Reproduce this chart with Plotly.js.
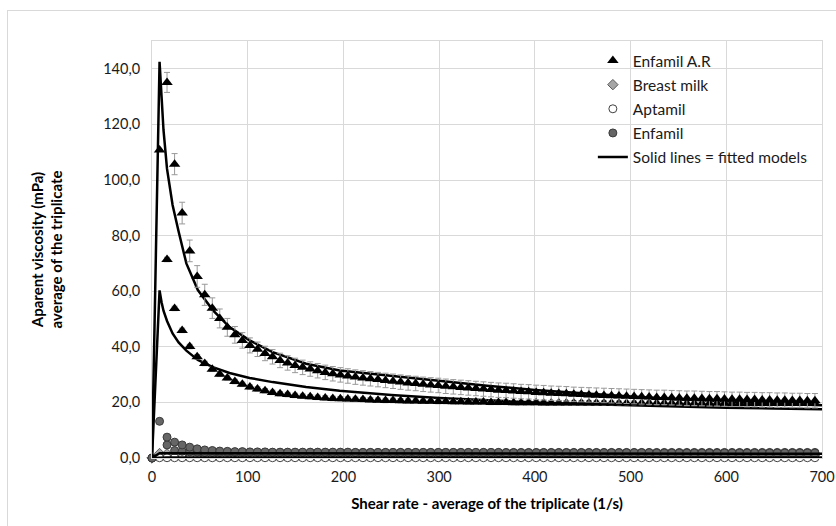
<!DOCTYPE html>
<html>
<head>
<meta charset="utf-8">
<script src="https://cdn.plot.ly/plotly-3.0.1.min.js"></script>
<style>
html,body{margin:0;padding:0;background:#fff;}
#wrap{position:relative;width:836px;height:526px;}
#chart{width:836px;height:526px;}
#frame{position:absolute;left:7px;top:10px;width:840px;height:530px;border-left:1px solid #d9d9d9;border-top:1px solid #d9d9d9;pointer-events:none;}
</style>
</head>
<body>
<div id="wrap"><div id="chart"></div><div id="frame"></div></div>
<script>
// Shear rate (1/s) of measured points
const shearRate = [0,7.9,15.7,23.6,31.5,39.4,47.2,55.1,63.0,70.8,78.7,86.6,94.4,102.3,110.2,118.1,125.9,133.8,141.7,149.5,157.4,165.3,173.1,181.0,188.9,196.8,204.6,212.5,220.4,228.2,236.1,244.0,251.8,259.7,267.6,275.5,283.3,291.2,299.1,306.9,314.8,322.7,330.5,338.4,346.3,354.2,362.0,369.9,377.8,385.6,393.5,401.4,409.2,417.1,425.0,432.9,440.7,448.6,456.5,464.3,472.2,480.1,487.9,495.8,503.7,511.6,519.4,527.3,535.2,543.0,550.9,558.8,566.6,574.5,582.4,590.3,598.1,606.0,613.9,621.7,629.6,637.5,645.3,653.2,661.1,669.0,676.8,684.7,692.6];

// Enfamil A.R - upper set (with error bars)
const enfamilAR1 = [0,null,135.1,105.7,88.1,74.5,65.3,58.7,53.9,50.2,47.0,44.3,42.3,40.5,39.1,37.6,36.4,35.1,34.2,33.3,32.6,32.0,31.4,30.8,30.3,29.9,29.5,29.1,28.8,28.5,28.2,27.9,27.6,27.3,27.0,26.8,26.5,26.3,26.1,25.8,25.6,25.4,25.2,25.0,24.8,24.6,24.4,24.3,24.1,23.9,23.8,23.6,23.5,23.3,23.2,23.1,22.9,22.8,22.7,22.6,22.5,22.4,22.3,22.2,22.1,22.0,21.9,21.8,21.8,21.7,21.6,21.5,21.5,21.4,21.3,21.3,21.2,21.1,21.1,21.0,21.0,20.9,20.9,20.8,20.8,20.7,20.7,20.6,20.6];
const enfamilAR1Err = [0,0,3.6,3.8,3.9,3.9,3.9,3.8,3.7,3.4,3.2,3.0,2.8,2.7,2.6,2.6,2.6,2.6,2.6,2.6,2.6,2.6,2.6,2.6,2.6,2.6,2.6,2.6,2.6,2.6,2.6,2.6,2.6,2.6,2.6,2.6,2.6,2.6,2.6,2.6,2.6,2.6,2.6,2.6,2.6,2.6,2.6,2.6,2.6,2.6,2.6,2.6,2.6,2.6,2.6,2.6,2.6,2.6,2.6,2.6,2.6,2.6,2.6,2.6,2.6,2.6,2.6,2.6,2.6,2.6,2.6,2.6,2.6,2.6,2.6,2.6,2.6,2.6,2.6,2.6,2.6,2.6,2.6,2.6,2.6,2.6,2.6,2.6,2.6];

// Enfamil A.R - lower set
const enfamilAR2 = [0,110.8,71.4,53.8,45.9,40.1,36.4,34.0,31.9,30.1,28.8,27.5,26.5,25.5,24.8,24.2,23.6,23.1,22.8,22.5,22.2,22.0,21.8,21.6,21.4,21.3,21.2,21.1,21.0,20.9,20.8,20.7,20.7,20.6,20.5,20.5,20.4,20.4,20.3,20.3,20.2,20.2,20.1,20.1,20.1,20.0,20.0,20.0,19.9,19.9,19.9,19.9,19.8,19.8,19.8,19.8,19.8,19.8,19.8,19.8,19.8,19.7,19.7,19.7,19.7,19.7,19.7,19.7,19.7,19.7,19.7,19.6,19.6,19.6,19.6,19.6,19.6,19.6,19.6,19.6,19.6,19.6,19.6,19.6,19.6,19.6,19.6,19.6,19.6];
const enfamilAR2Err = [0,0,0.8,0.8,0.8,0.8,0.8,0.8,0.8,0.8,0.8,0.8,0.8,0.8,0.8,0.8,0.8,0.8,0.8,0.8,0.8,0.8,0.8,0.8,0.8,0.8,0.8,0.8,0.8,0.8,0.8,0.8,0.8,0.8,0.8,0.8,0.8,0.8,0.8,0.8,0.8,0.8,0.8,0.8,0.8,0.8,0.8,0.8,0.8,0.8,0.8,0.8,0.8,0.8,0.8,0.8,0.8,0.8,0.8,0.8,0.8,0.8,0.8,0.8,0.8,0.8,0.8,0.8,0.8,0.8,0.8,0.8,0.8,0.8,0.8,0.8,0.8,0.8,0.8,0.8,0.8,0.8,0.8,0.8,0.8,0.8,0.8,0.8,0.8];

// Breast milk
const breastMilk = [0,1.6,1.5,1.3,1.2,1.2,1.2,1.2,1.2,1.2,1.2,1.2,1.2,1.2,1.2,1.2,1.2,1.2,1.2,1.2,1.2,1.2,1.2,1.2,1.2,1.2,1.2,1.2,1.2,1.2,1.2,1.2,1.2,1.2,1.2,1.2,1.2,1.2,1.2,1.2,1.2,1.2,1.2,1.2,1.2,1.2,1.2,1.2,1.2,1.2,1.2,1.2,1.2,1.2,1.2,1.2,1.2,1.2,1.2,1.2,1.2,1.2,1.2,1.2,1.2,1.2,1.2,1.2,1.2,1.2,1.2,1.2,1.2,1.2,1.2,1.2,1.2,1.2,1.2,1.2,1.2,1.2,1.2,1.2,1.2,1.2,1.2,1.2,1.2];

// Aptamil
const aptamil = [null,0.1,0.1,0.1,0.1,0.1,0.1,0.1,0.1,0.1,0.1,0.1,0.1,0.1,0.1,0.1,0.1,0.1,0.1,0.1,0.1,0.1,0.1,0.1,0.1,0.1,0.1,0.1,0.1,0.1,0.1,0.1,0.1,0.1,0.1,0.1,0.1,0.1,0.1,0.1,0.1,0.1,0.1,0.1,0.1,0.1,0.1,0.1,0.1,0.1,0.1,0.1,0.1,0.1,0.1,0.1,0.1,0.1,0.1,0.1,0.1,0.1,0.1,0.1,0.1,0.1,0.1,0.1,0.1,0.1,0.1,0.1,0.1,0.1,0.1,0.1,0.1,0.1,0.1,0.1,0.1,0.1,0.1,0.1,0.1,0.1,0.1,0.1,0.1];

// Enfamil - two sets
const enfamil1 = [0,13.2,7.5,5.7,4.7,3.9,3.3,2.9,2.7,2.5,2.4,2.3,2.3,2.2,2.2,2.2,2.1,2.1,2.1,2.1,2.1,2.1,2.1,2.1,2.1,2.1,2.1,2.0,2.0,2.0,2.0,2.0,2.0,2.0,2.0,2.0,2.0,2.0,2.0,2.0,2.0,2.0,2.0,2.0,2.0,2.0,2.0,1.9,1.9,1.9,1.9,1.9,1.9,1.9,1.9,1.9,1.9,1.9,1.9,1.9,1.9,1.9,1.9,1.9,1.9,1.9,1.9,1.8,1.8,1.8,1.8,1.8,1.8,1.8,1.8,1.8,1.8,1.8,1.8,1.8,1.8,1.8,1.8,1.8,1.8,1.8,1.8,1.8,1.8];
const enfamil2 = [0,null,4.7,2.7,2.4,2.2,2.1,2.0,2.0,2.0,2.0,2.0,2.0,2.0,2.0,2.0,2.0,2.0,2.0,2.0,2.0,2.0,2.0,2.0,2.0,2.0,2.0,2.0,2.0,2.0,2.0,2.0,2.0,2.0,2.0,2.0,2.0,2.0,2.0,2.0,2.0,2.0,2.0,2.0,2.0,2.0,2.0,2.0,2.0,2.0,2.0,2.0,2.0,2.0,2.0,2.0,2.0,2.0,2.0,2.0,2.0,2.0,2.0,2.0,2.0,2.0,2.0,2.0,2.0,2.0,2.0,2.0,2.0,2.0,2.0,2.0,2.0,2.0,2.0,2.0,2.0,2.0,2.0,2.0,2.0,2.0,2.0,2.0,2.0];

// Fitted models
const fitX = [0,7.9,10,12,15.7,21.5,27.8,35.9,47.9,63.5,81,102,126,161,196,250,300,350,400,450,500,550,600,650,700];
const fitAR1 = [0,142.5,130,118,104,91,81.5,70,60.4,53.2,47.1,42.3,38.1,33.9,31.5,29.5,27.7,26.0,24.5,23.2,22.1,21.1,20.3,19.6,19.0];
const fitAR2 = [0,60.3,56,53,49.3,44.8,41.6,38.6,35.3,32.7,30.6,28.8,27.3,25.5,24.2,22.7,21.6,20.7,20.0,19.4,18.9,18.4,18.1,17.8,17.5];
const fitEnfamil = [0,1.7,1.7,1.7,1.7,1.7,1.7,1.7,1.7,1.7,1.7,1.7,1.7,1.7,1.7,1.7,1.7,1.6,1.6,1.6,1.6,1.6,1.5,1.5,1.5];
const fitAptamil = [0,0.2,0.2,0.2,0.2,0.2,0.2,0.2,0.2,0.2,0.2,0.2,0.2,0.2,0.2,0.2,0.2,0.2,0.2,0.2,0.2,0.2,0.2,0.2,0.2];

const yTicks = [0,20,40,60,80,100,120,140];
const xTicks = [0,100,200,300,400,500,600,700];

const FONT = 'Lato, "Open Sans", sans-serif';
const fitLine = {color:'#000', width:2.5};

const traces = [
  {x:fitX, y:fitAR1, mode:'lines', line:fitLine, showlegend:false, hoverinfo:'skip'},
  {x:fitX, y:fitAR2, mode:'lines', line:fitLine, showlegend:false, hoverinfo:'skip'},
  {x:shearRate, y:breastMilk, mode:'markers', name:'Breast milk', legendgroup:'b', legendrank:2, cliponaxis:false,
   marker:{symbol:'diamond', size:8, color:'#a6a6a6', line:{color:'#595959', width:1}}},
  {x:shearRate, y:aptamil, mode:'markers', name:'Aptamil', legendgroup:'c', legendrank:3, cliponaxis:false,
   marker:{symbol:'circle', size:8, color:'#ffffff', line:{color:'#404040', width:1}}},
  {x:shearRate, y:enfamil2, mode:'markers', showlegend:false, cliponaxis:false,
   marker:{symbol:'circle', size:8, color:'#666666', line:{color:'#3a3a3a', width:1}}},
  {x:shearRate, y:enfamil1, mode:'markers', name:'Enfamil', legendgroup:'d', legendrank:4, cliponaxis:false,
   marker:{symbol:'circle', size:8, color:'#666666', line:{color:'#3a3a3a', width:1}}},
  {x:fitX, y:fitAptamil, mode:'lines', line:fitLine, showlegend:false, hoverinfo:'skip', cliponaxis:false},
  {x:fitX, y:fitEnfamil, mode:'lines', line:fitLine, showlegend:false, hoverinfo:'skip', cliponaxis:false},
  {x:shearRate, y:enfamilAR2, mode:'markers', showlegend:false,
   error_y:{type:'data', array:enfamilAR2Err, visible:true, color:'#999999', thickness:1, width:3},
   marker:{symbol:'triangle-up', size:10, color:'#000'}},
  {x:shearRate, y:enfamilAR1, mode:'markers', name:'Enfamil A.R', legendgroup:'a', legendrank:1,
   error_y:{type:'data', array:enfamilAR1Err, visible:true, color:'#999999', thickness:1, width:3},
   marker:{symbol:'triangle-up', size:10, color:'#000'}},
  {x:[null], y:[null], mode:'lines', line:fitLine, name:'Solid lines = fitted models', legendgroup:'e', legendrank:5}
];

const layout = {
  width:836, height:526,
  margin:{l:152, r:14, t:41, b:68, autoexpand:false},
  paper_bgcolor:'#fff', plot_bgcolor:'#fff',
  separators:',.',
  font:{family:FONT, size:14, color:'#262626'},
  showlegend:true,
  legend:{x:0.658, y:0.993, xanchor:'left', yanchor:'top', bgcolor:'rgba(255,255,255,0)',
          font:{family:FONT, size:15.5, color:'#1a1a1a'}, traceorder:'grouped', tracegroupgap:1},
  xaxis:{range:[0,700], tickvals:xTicks, tickformat:'d', showgrid:true, gridcolor:'#d9d9d9', gridwidth:1,
         showline:true, linecolor:'#d9d9d9', mirror:true, zeroline:false,
         ticks:'outside', ticklen:6, tickcolor:'rgba(0,0,0,0)',
         tickfont:{family:FONT, size:14.5, color:'#1a1a1a'},
         title:{text:'<b>Shear rate - average of the triplicate (1/s)</b>', font:{family:FONT, size:15, color:'#000'}, standoff:14}},
  yaxis:{range:[0,150], tickvals:yTicks, tickformat:'.1f', showgrid:true, gridcolor:'#d9d9d9', gridwidth:1,
         showline:true, linecolor:'#d9d9d9', mirror:true, zeroline:false,
         ticks:'outside', ticklen:8, tickcolor:'rgba(0,0,0,0)',
         tickfont:{family:FONT, size:14.5, color:'#1a1a1a'},
         title:{text:'<b>Aparent viscosity (mPa)<br>average of the triplicate</b>', font:{family:FONT, size:15, color:'#000'}, standoff:36}}
};

Plotly.newPlot('chart', traces, layout, {displayModeBar:false, staticPlot:true});
</script>
</body>
</html>
